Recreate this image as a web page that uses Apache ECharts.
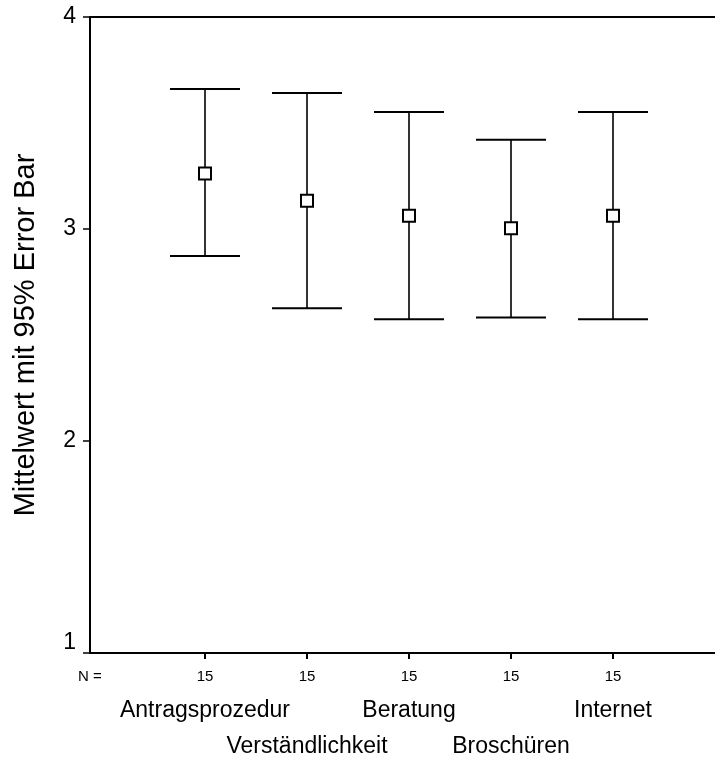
<!DOCTYPE html>
<html>
<head>
<meta charset="utf-8">
<script src="https://cdn.jsdelivr.net/npm/echarts@6/dist/echarts.min.js"></script>
<style>
html,body{margin:0;padding:0;background:#fff;}
#chart{width:715px;height:758px;}
</style>
</head>
<body>
<div id="chart"></div>
<script>
var categories = ['Antragsprozedur', 'Verständlichkeit', 'Beratung', 'Broschüren', 'Internet'];
var means = [3.262, 3.133, 3.063, 3.003, 3.063];
var lower = [2.873, 2.626, 2.574, 2.583, 2.574];
var upper = [3.660, 3.642, 3.552, 3.421, 3.552];
var nValues = [15, 15, 15, 15, 15];
var yTicks = [1, 2, 3, 4];

var FONT = '"Liberation Sans", Arial, sans-serif';
var X_MIN = -0.1275, X_MAX = 6.0;
var data = categories.map(function (c, i) {
  return [i + 1, means[i], lower[i], upper[i], nValues[i], i];
});

function renderItem(params, api) {
  var x = api.value(0);
  var idx = api.value(5);
  var pm = api.coord([x, api.value(1)]);
  var pl = api.coord([x, api.value(2)]);
  var pu = api.coord([x, api.value(3)]);
  var pb = api.coord([x, 1]);
  var cap = 35, ms = 6;
  var lineStyle = { stroke: '#000', lineWidth: 2 };
  var children = [
    { type: 'line', shape: { x1: pl[0], y1: pl[1], x2: pu[0], y2: pu[1] }, style: { stroke: '#000', lineWidth: 1.6 } },
    { type: 'line', shape: { x1: pu[0] - cap, y1: pu[1], x2: pu[0] + cap, y2: pu[1] }, style: lineStyle },
    { type: 'line', shape: { x1: pl[0] - cap, y1: pl[1], x2: pl[0] + cap, y2: pl[1] }, style: lineStyle },
    { type: 'rect', shape: { x: pm[0] - ms, y: pm[1] - ms, width: 2 * ms, height: 2 * ms }, style: { fill: '#fff', stroke: '#000', lineWidth: 2 } },
    { type: 'line', shape: { x1: pb[0], y1: pb[1], x2: pb[0], y2: pb[1] + 6 }, style: lineStyle },
    { type: 'text', style: { text: String(api.value(4)), x: pb[0], y: pb[1] + 24, align: 'center', verticalAlign: 'middle', font: '15px ' + FONT, fill: '#000' } },
    { type: 'text', style: { text: categories[idx], x: pb[0], y: pb[1] + (idx % 2 === 0 ? 58 : 94), align: 'center', verticalAlign: 'middle', font: '23px ' + FONT, fill: '#000' } }
  ];
  if (idx === 0) {
    var p0 = api.coord([X_MIN, 1]);
    children.push({ type: 'text', style: { text: 'N =', x: p0[0], y: pb[1] + 24, align: 'center', verticalAlign: 'middle', font: '15px ' + FONT, fill: '#000' } });
  }
  return { type: 'group', children: children };
}

var chart = echarts.init(document.getElementById('chart'));
chart.setOption({
  animation: false,
  backgroundColor: '#fff',
  grid: { left: 90, right: 0, top: 17, bottom: 105, containLabel: false, outerBoundsMode: 'none' },
  xAxis: [
    { type: 'value', min: X_MIN, max: X_MAX, position: 'bottom',
      axisLine: { show: true, onZero: false, lineStyle: { color: '#000', width: 2 } },
      axisTick: { show: false }, axisLabel: { show: false }, splitLine: { show: false } },
    { type: 'value', min: X_MIN, max: X_MAX, position: 'top',
      axisLine: { show: true, onZero: false, lineStyle: { color: '#000', width: 2 } },
      axisTick: { show: false }, axisLabel: { show: false }, splitLine: { show: false } }
  ],
  yAxis: {
    type: 'value', min: 1, max: 4, interval: 1, position: 'left',
    name: 'Mittelwert mit 95% Error Bar', nameLocation: 'middle', nameGap: 50, nameRotate: 90,
    nameTextStyle: { fontFamily: FONT, fontSize: 29, color: '#000' },
    axisLine: { show: true, onZero: false, lineStyle: { color: '#000', width: 2 } },
    axisTick: { show: true, length: 7, lineStyle: { color: '#000', width: 1.5 } },
    axisLabel: { fontFamily: FONT, fontSize: 23, color: '#000', margin: 14,
      formatter: function (v) {
        if (yTicks.indexOf(v) < 0) return '';
        return v === 1 ? '{up|' + v + '}' : String(v);
      },
      rich: { up: { fontFamily: FONT, fontSize: 23, color: '#000', padding: [0, 0, 20, 0] } } },
    splitLine: { show: false }
  },
  series: [{
    type: 'custom', renderItem: renderItem, data: data, clip: false,
    encode: { x: 0, y: [1, 2, 3] }
  }]
});
</script>
</body>
</html>
